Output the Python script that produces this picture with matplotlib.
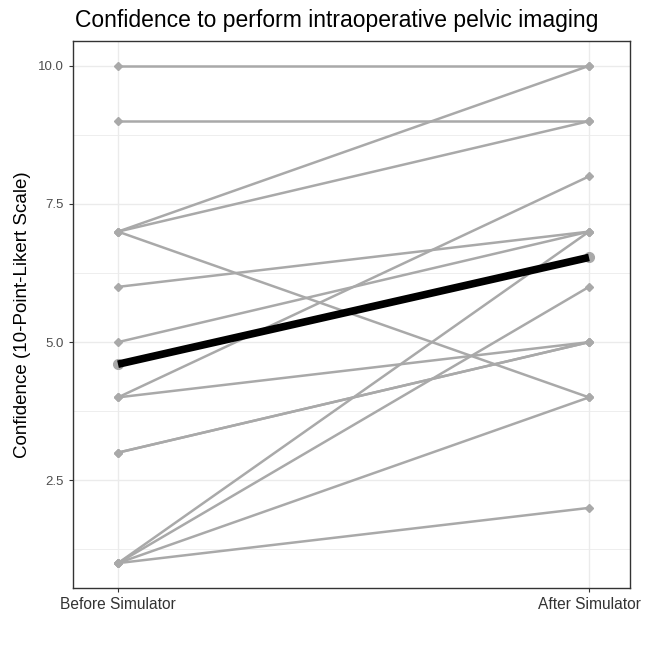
import matplotlib
matplotlib.use("Agg")
import matplotlib.pyplot as plt
import numpy as np

conditions = ["Before Simulator", "After Simulator"]
before = [10, 9, 7, 7, 7, 6, 5, 4, 4, 3, 3, 1, 1, 1, 1]
after = [10, 9, 10, 9, 4, 7, 7, 8, 5, 5, 5, 7, 6, 4, 2]
mean_before = np.mean(before)
mean_after = np.mean(after)

W = 646
fig = plt.figure(figsize=(6.46, 6.46), dpi=100)
ax = fig.add_axes([73 / W, 1 - 588 / W, (630 - 73) / W, (588 - 41) / W])

xs = [1, 2]
for b, a in zip(before, after):
    ax.plot(xs, [b, a], color="#A9A9A9", lw=1.8, marker="D", ms=4,
            mec="#A9A9A9", mfc="#A9A9A9", zorder=3, solid_capstyle="butt")

ax.plot(xs, [mean_before, mean_after], color="black", lw=5.5, zorder=4,
        solid_capstyle="butt")
ax.plot(xs, [mean_before, mean_after], ls="none", marker="o", ms=7,
        color="#A9A9A9", zorder=3.5)

ax.set_xlim(1 - 45 / 471, 2 + 41 / 471)
ax.set_ylim(0.55, 10.45)
ax.set_xticks(xs)
ax.set_xticklabels(conditions, fontsize=11.2, color="#333333", family="Liberation Sans")
ax.set_yticks([2.5, 5.0, 7.5, 10.0])
ax.set_yticklabels(["2.5", "5.0", "7.5", "10.0"], fontsize=9.5, color="#4D4D4D",
                   family="Liberation Sans")
ax.set_yticks([1.25, 3.75, 6.25, 8.75], minor=True)
ax.tick_params(axis="y", which="minor", length=0)
ax.tick_params(axis="both", which="major", length=3, color="#333333", width=0.8)

ax.grid(True, which="major", color="#EBEBEB", lw=1.0, zorder=0)
ax.grid(True, which="minor", axis="y", color="#EBEBEB", lw=0.6, zorder=0)
ax.set_axisbelow(True)
for s in ax.spines.values():
    s.set_color("#333333")
    s.set_linewidth(1.0)

ax.set_ylabel("Confidence (10-Point-Likert Scale)", fontsize=13.5,
              family="Liberation Sans", labelpad=5)

fig.text(75 / W, 1 - 21 / W, "Confidence to perform intraoperative pelvic imaging",
         fontsize=16.5, family="Liberation Sans", ha="left", va="center")

fig.savefig("out.png", dpi=100, facecolor="white")
